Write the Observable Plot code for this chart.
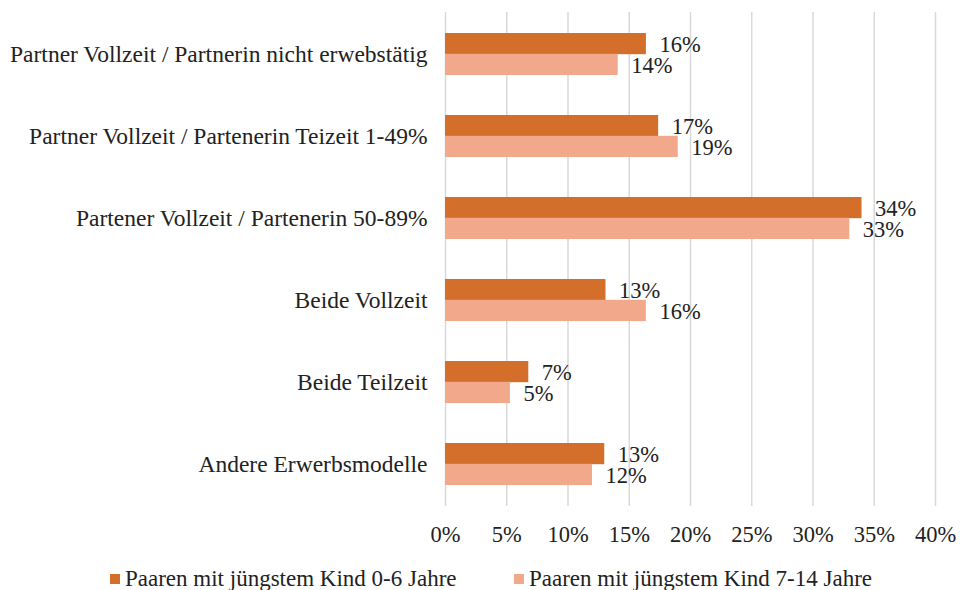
<!DOCTYPE html>
<html>
<head>
<meta charset="utf-8">
<script src="https://cdn.jsdelivr.net/npm/d3@7"></script>
<script src="https://cdn.jsdelivr.net/npm/@observablehq/plot@0.6"></script>
<style>
  body { margin: 0; background: #fff; font-family: "Liberation Serif", "Times New Roman", serif; }
  #chart svg { display: block; }
  .legend { position: absolute; top: 565px; left: 0; width: 960px; font-size: 23px; color: #222; }
  .legend .item { position: absolute; display: flex; align-items: center; white-space: nowrap; line-height: 28px; }
  .legend .sw { width: 10px; height: 10px; margin-right: 5px; }
</style>
</head>
<body>
<div id="chart"></div>
<div class="legend" id="legend"></div>
<script>
const categories = [
  "Partner Vollzeit / Partnerin nicht erwebstätig",
  "Partner Vollzeit / Partenerin Teizeit 1-49%",
  "Partener Vollzeit / Partenerin 50-89%",
  "Beide Vollzeit",
  "Beide Teilzeit",
  "Andere Erwerbsmodelle"
];
const seriesNames = ["Paaren mit jüngstem Kind 0-6 Jahre", "Paaren mit jüngstem Kind 7-14 Jahre"];
const young = [16.4, 17.4, 34.0, 13.1, 6.8, 13.0];   // 0-6 Jahre
const older = [14.1, 19.0, 33.0, 16.4, 5.3, 12.0];   // 7-14 Jahre
const xTicks = [0, 5, 10, 15, 20, 25, 30, 35, 40];
const colors = ["#D36E2B", "#F2A98B"];

const data = [];
categories.forEach((c, i) => {
  data.push({cat: c, series: seriesNames[0], value: young[i]});
  data.push({cat: c, series: seriesNames[1], value: older[i]});
});
const d0 = data.filter(d => d.series === seriesNames[0]);
const d1 = data.filter(d => d.series === seriesNames[1]);
const half = 20.8;

const chart = Plot.plot({
  width: 960,
  height: 560,
  marginLeft: 445,
  marginRight: 25,
  marginTop: 12,
  marginBottom: 54,
  style: {fontFamily: "'Liberation Serif', 'Times New Roman', serif", fontSize: "22px", color: "#222", background: "#fff"},
  x: {domain: [0, 40], ticks: xTicks, tickFormat: d => d + "%", label: null},
  y: {domain: categories, paddingInner: 0.49, paddingOuter: 0.245, label: null},
  marks: [
    Plot.ruleX(xTicks, {stroke: "#d9d9d9", strokeWidth: 1.5}),
    Plot.barX(d0, {x: "value", y: "cat", fill: colors[0], insetBottom: half, insetTop: 0}),
    Plot.barX(d1, {x: "value", y: "cat", fill: colors[1], insetTop: half, insetBottom: 0}),
    Plot.text(d0, {x: "value", y: "cat", text: d => Math.round(d.value) + "%", dx: 13, dy: -10, textAnchor: "start", fill: "#222", fontSize: 22.5}),
    Plot.text(d1, {x: "value", y: "cat", text: d => Math.round(d.value) + "%", dx: 13, dy: 11, textAnchor: "start", fill: "#222", fontSize: 22.5}),
    Plot.axisX({ticks: xTicks, tickFormat: d => d + "%", tickSize: 0, tickPadding: 20, fontSize: 22.5, label: null}),
    Plot.axisY({tickSize: 0, tickPadding: 18, fontSize: 23.5, label: null})
  ]
});
document.getElementById("chart").appendChild(chart);

const legend = document.getElementById("legend");
const lx = [110, 514];
seriesNames.forEach((s, i) => {
  const item = document.createElement("div");
  item.className = "item";
  item.style.left = lx[i] + "px";
  item.innerHTML = `<span class="sw" style="background:${colors[i]}"></span><span>${s}</span>`;
  legend.appendChild(item);
});
</script>
</body>
</html>
